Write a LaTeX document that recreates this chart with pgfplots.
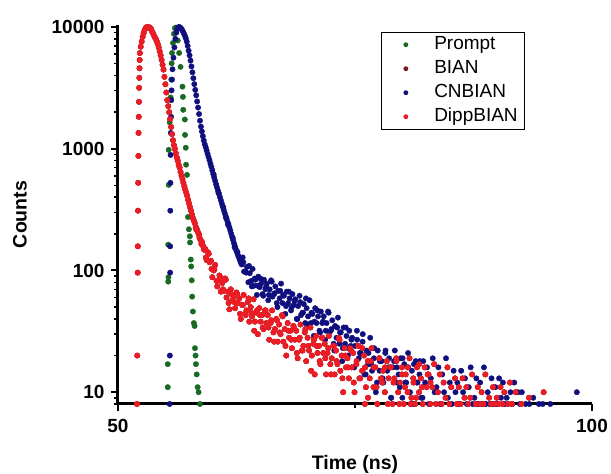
\documentclass[border=0pt]{standalone}
\usepackage{pgfplots}
\pgfplotsset{compat=1.18}
\usepackage{pgfplotstable}
\usepackage{fontspec}
\setmainfont{Liberation Sans}
\definecolor{cprompt}{RGB}{25,105,35}
\definecolor{cbian}{RGB}{130,20,30}
\definecolor{ccn}{RGB}{15,15,125}
\definecolor{cdipp}{RGB}{236,28,36}

\pgfplotstableread[row sep=\\]{
x y\\
52.00 8\\ 52.03 20\\ 52.08 96\\ 52.09 158\\ 52.11 310\\ 52.13 525\\ 52.15 874\\ 52.17 1350\\ 52.19 1830\\ 52.21 2430\\ 52.23 3170\\ 52.25 3830\\
52.27 4590\\ 52.29 5370\\ 52.31 6120\\ 52.40 6900\\ 52.50 7600\\ 52.60 8300\\ 52.70 8900\\ 52.80 9400\\ 52.90 9750\\ 53.00 9950\\ 53.10 10050\\ 53.20 10000\\
53.30 9950\\ 53.40 9800\\ 53.50 9600\\ 53.60 9150\\ 53.70 8850\\ 53.80 8500\\ 53.90 8200\\ 54.00 7950\\ 54.10 7600\\ 54.20 7250\\ 54.30 6800\\ 54.40 6300\\
54.50 5850\\ 54.60 5370\\ 54.70 4900\\ 54.80 4470\\ 54.90 3900\\ 55.00 3390\\ 55.10 2900\\ 55.20 2510\\ 55.30 2240\\ 55.40 2000\\ 55.50 1760\\ 55.60 1510\\
55.70 1320\\ 55.80 1175\\ 55.90 1070\\ 56.00 1000\\ 56.10 920\\ 56.20 850\\ 56.30 800\\ 56.40 740\\ 56.50 700\\ 56.60 645\\ 56.70 600\\ 56.80 562\\
56.90 525\\ 57.00 490\\ 57.10 460\\ 57.20 436\\ 57.30 410\\ 57.40 380\\ 57.50 355\\ 57.60 331\\ 57.70 310\\ 57.80 288\\ 57.90 270\\ 58.00 257\\
58.10 245\\ 58.20 228\\ 58.30 220\\ 58.40 209\\ 58.50 201\\ 58.60 186\\ 58.70 178\\ 58.80 165\\ 58.90 162\\ 59.00 158\\ 59.10 148\\
58.25 218\\ 58.55 196\\ 58.85 172\\ 59.05 150\\
59.20 150\\ 59.35 122\\ 59.50 141\\ 59.65 117\\ 59.80 120\\ 59.95 88\\ 60.10 100\\ 60.25 111\\ 60.40 82\\ 60.55 83\\ 60.70 91\\ 60.85 67\\
61.00 79\\ 61.15 68\\ 61.30 86\\ 61.45 60\\ 61.60 67\\ 61.75 48\\ 61.90 70\\ 62.05 57\\ 62.20 61\\ 62.35 49\\ 62.50 66\\ 62.65 54\\
62.80 59\\ 62.95 40\\ 63.10 52\\ 63.25 63\\ 63.40 44\\ 63.55 47\\ 63.70 55\\ 63.85 38\\ 64.00 50\\ 64.15 42\\ 64.30 58\\ 64.45 38\\
64.60 45\\ 64.75 30\\ 64.90 49\\ 65.05 38\\ 65.20 43\\ 65.35 33\\ 65.50 47\\ 65.65 37\\ 65.80 43\\ 65.95 27\\ 66.10 37\\ 66.25 47\\
66.40 31\\ 66.55 33\\ 66.70 40\\ 66.85 26\\ 67.00 36\\ 67.15 30\\ 67.30 43\\ 67.45 26\\ 67.60 33\\ 67.75 20\\ 67.90 37\\ 68.05 28\\
68.20 32\\ 68.35 23\\ 68.50 35\\ 68.65 27\\ 68.80 32\\ 68.95 19\\ 69.10 27\\ 69.25 36\\ 69.40 22\\ 69.55 24\\ 69.70 31\\ 69.85 18\\
70.00 28\\ 70.15 22\\ 70.30 34\\ 70.45 20\\ 70.60 25\\ 70.75 14\\ 70.90 29\\ 71.05 21\\ 71.20 24\\ 71.35 17\\ 71.50 28\\ 71.65 21\\
71.80 25\\ 71.95 14\\ 72.10 21\\ 72.25 29\\ 72.40 17\\ 72.55 19\\ 72.70 24\\ 72.85 14\\ 73.00 22\\ 73.15 17\\ 73.30 28\\ 73.45 15\\
73.60 20\\ 73.75 10\\ 73.90 23\\ 74.05 16\\ 74.20 19\\ 74.35 13\\ 74.50 23\\ 74.65 16\\ 74.80 21\\ 74.95 10\\
75.15 17\\ 75.35 24\\ 75.55 13\\ 75.75 15\\ 75.95 20\\ 76.05 8\\ 76.15 11\\ 76.35 18\\ 76.55 13\\ 76.75 23\\ 76.95 11\\ 77.15 16\\ 77.35 8\\
77.55 19\\ 77.75 13\\ 77.95 15\\ 78.15 10\\ 78.35 18\\ 78.55 13\\ 78.75 16\\ 78.95 8\\ 79.15 13\\ 79.35 19\\ 79.55 10\\ 79.75 12\\ 79.95 16\\
80.15 8\\ 80.35 14\\ 80.55 10\\ 80.75 19\\ 80.95 9\\ 81.15 13\\ 81.35 8\\ 81.55 16\\ 81.75 10\\ 81.95 13\\ 82.15 8\\ 82.35 16\\ 82.55 11\\
82.75 14\\ 82.95 8\\ 83.15 11\\ 83.35 17\\ 83.55 8\\ 83.75 10\\ 83.95 14\\ 84.15 8\\ 84.35 12\\ 84.55 9\\ 84.75 16\\ 84.95 8\\ 85.15 11\\
85.55 13\\ 85.75 8\\ 85.95 11\\ 86.15 8\\ 86.35 13\\ 86.55 9\\ 86.75 11\\ 86.95 8\\ 87.15 9\\ 87.35 14\\ 87.75 8\\ 87.95 11\\ 88.15 8\\
88.35 10\\ 88.55 8\\ 88.75 14\\ 89.15 9\\ 89.35 8\\ 89.55 11\\ 89.75 8\\ 89.95 9\\ 90.15 8\\ 90.35 11\\ 90.55 8\\ 90.75 10\\ 91.15 8\\
91.35 12\\ 91.55 8\\ 91.95 10\\ 92.55 8\\ 93.35 9\\ 94.90 10\\
59.27 128\\ 59.57 137\\ 59.87 103\\ 60.17 102\\ 60.47 74\\ 60.77 88\\ 61.07 70\\ 61.37 84\\ 61.67 54\\ 61.97 64\\ 62.27 55\\ 62.57 64\\
62.87 44\\ 63.17 52\\ 63.47 43\\ 63.77 59\\ 64.07 45\\ 64.37 32\\ 64.67 47\\ 64.97 43\\ 65.27 34\\ 65.57 47\\ 65.87 34\\ 66.17 39\\
66.47 26\\ 66.77 39\\ 67.07 31\\ 67.37 42\\ 67.67 24\\ 67.97 32\\ 68.27 27\\ 68.57 34\\ 68.87 21\\ 69.17 28\\ 69.47 22\\ 69.77 33\\
70.07 24\\ 70.37 15\\ 70.67 27\\ 70.97 24\\ 71.27 18\\ 71.57 28\\ 71.87 19\\ 72.17 23\\ 72.47 14\\ 72.77 24\\ 73.07 18\\ 73.37 27\\
73.67 13\\ 73.97 20\\ 74.27 16\\ 74.57 22\\ 74.87 12\\ 75.17 18\\ 75.47 13\\ 75.77 23\\ 76.07 16\\ 76.37 9\\ 76.67 18\\ 76.97 16\\
77.27 11\\ 77.57 19\\ 77.87 12\\ 78.17 16\\ 78.47 8\\ 78.77 16\\ 79.07 12\\ 79.37 18\\ 79.67 8\\ 79.97 14\\ 80.27 11\\ 80.57 16\\
80.87 8\\ 81.17 12\\ 81.47 9\\ 81.77 17\\ 82.07 11\\ 82.67 14\\ 82.97 12\\
}\reddata

\pgfplotstableread[row sep=\\]{
x y\\
55.45 8\\ 55.47 20\\ 55.50 96\\ 55.50 158\\ 55.52 310\\ 55.53 525\\ 55.55 890\\ 55.57 1350\\ 55.60 1830\\ 55.62 2510\\ 55.65 3020\\ 55.70 3700\\
55.75 4500\\ 55.85 5600\\ 55.95 6800\\ 56.05 8000\\ 56.15 9000\\ 56.25 9600\\ 56.35 9950\\ 56.45 10000\\
56.55 9950\\ 56.65 9750\\ 56.75 9500\\ 56.85 9200\\ 56.95 8850\\ 57.05 8500\\ 57.15 8100\\ 57.25 7600\\ 57.35 7000\\ 57.45 6400\\ 57.55 5850\\
57.65 5300\\ 57.75 4750\\ 57.85 4250\\ 57.95 3800\\ 58.05 3400\\ 58.15 3050\\ 58.25 2750\\ 58.35 2450\\ 58.45 2180\\ 58.55 1930\\ 58.65 1700\\
58.75 1520\\ 58.85 1390\\ 58.95 1270\\ 59.05 1170\\ 59.15 1090\\ 59.25 1030\\ 59.35 970\\ 59.45 910\\ 59.55 855\\ 59.65 805\\ 59.75 755\\
59.85 710\\ 59.95 665\\ 60.05 620\\ 60.15 580\\ 60.25 545\\ 60.35 510\\ 60.45 480\\ 60.55 452\\ 60.65 428\\ 60.75 402\\ 60.85 378\\ 60.95 355\\
61.05 335\\ 61.15 315\\ 61.25 298\\ 61.35 282\\ 61.45 267\\ 61.55 252\\ 61.65 240\\ 61.75 226\\ 61.85 213\\ 61.95 200\\ 62.05 188\\ 62.15 177\\
62.25 166\\ 62.35 157\\ 62.45 148\\ 62.55 141\\ 62.65 134\\ 62.75 128\\ 62.85 122\\ 62.95 116\\ 63.05 112\\
60.10 612\\ 60.60 432\\ 61.10 332\\ 61.60 238\\ 62.10 186\\ 62.60 142\\ 62.90 124\\ 61.40 270\\ 62.30 155\\
63.15 128\\ 63.30 98\\ 63.45 98\\ 63.60 107\\ 63.75 80\\ 63.90 95\\ 64.05 82\\ 64.20 103\\ 64.35 75\\ 64.50 84\\ 64.65 63\\ 64.80 89\\
64.95 73\\ 65.10 78\\ 65.25 64\\ 65.40 84\\ 65.55 70\\ 65.70 78\\ 65.85 57\\ 66.00 70\\ 66.15 83\\ 66.30 61\\ 66.45 64\\ 66.60 74\\
66.75 54\\ 66.90 68\\ 67.05 59\\ 67.20 78\\ 67.35 54\\ 67.50 62\\ 67.65 44\\ 67.80 67\\ 67.95 54\\ 68.10 59\\ 68.25 47\\ 68.40 64\\
68.55 52\\ 68.70 58\\ 68.85 40\\ 69.00 51\\ 69.15 62\\ 69.30 43\\ 69.45 45\\ 69.60 53\\ 69.75 37\\ 69.90 49\\ 70.05 42\\ 70.20 57\\
70.35 37\\ 70.50 44\\ 70.65 29\\ 70.80 49\\ 70.95 37\\ 71.10 42\\ 71.25 32\\ 71.40 46\\ 71.55 37\\ 71.70 42\\ 71.85 27\\ 72.00 37\\
72.15 46\\ 72.30 31\\ 72.45 32\\ 72.60 39\\ 72.75 25\\ 72.90 35\\ 73.05 28\\ 73.20 41\\ 73.35 25\\ 73.50 31\\ 73.65 18\\ 73.80 34\\
73.95 25\\ 74.10 29\\ 74.25 20\\ 74.40 32\\ 74.55 24\\ 74.70 28\\ 74.85 16\\ 75.00 24\\
75.20 32\\ 75.40 19\\ 75.60 21\\ 75.80 26\\ 76.00 14\\ 76.20 22\\ 76.40 17\\ 76.60 28\\ 76.80 15\\ 77.00 19\\ 77.20 10\\ 77.40 22\\
77.60 15\\ 77.80 18\\ 78.00 12\\ 78.20 21\\ 78.40 15\\ 78.60 19\\ 78.80 9\\ 79.00 16\\ 79.20 22\\ 79.40 12\\ 79.60 14\\ 79.80 19\\
80.00 9\\ 80.20 17\\ 80.40 12\\ 80.60 21\\ 80.80 10\\ 81.00 15\\ 81.20 8\\ 81.40 18\\ 81.60 12\\ 81.80 14\\ 82.00 9\\ 82.20 18\\ 82.40 12\\
82.60 16\\ 82.80 8\\ 83.00 13\\ 83.20 19\\ 83.40 10\\ 83.60 11\\ 83.80 16\\ 84.00 8\\ 84.20 14\\ 84.40 10\\ 84.60 19\\ 84.80 9\\ 85.00 12\\
85.20 8\\ 85.40 15\\ 85.60 10\\ 85.80 12\\ 86.00 8\\ 86.20 15\\ 86.40 10\\ 86.60 13\\ 86.80 8\\ 87.00 11\\ 87.20 16\\ 87.40 8\\ 87.60 9\\
87.80 13\\ 88.00 8\\ 88.20 12\\ 88.40 8\\ 88.60 16\\ 88.80 8\\ 89.00 10\\ 89.20 8\\ 89.40 13\\ 89.60 8\\ 89.80 11\\ 90.00 8\\ 90.20 13\\
90.40 9\\ 90.60 12\\ 90.80 8\\ 91.00 9\\ 91.40 10\\ 91.60 8\\ 91.80 12\\ 92.20 10\\ 92.40 8\\ 92.60 10\\ 93.00 8\\ 93.40 8\\ 93.80 9\\
94.40 8\\ 94.80 8\\ 95.60 8\\ 98.40 10\\
63.22 117\\ 63.52 96\\ 63.82 109\\ 64.12 74\\ 64.42 86\\ 64.72 75\\ 65.02 86\\ 65.32 62\\ 65.62 73\\ 65.92 63\\ 66.22 81\\ 66.52 65\\
66.82 50\\ 67.12 68\\ 67.42 63\\ 67.72 51\\ 68.02 67\\ 68.32 50\\ 68.62 56\\ 68.92 40\\ 69.22 55\\ 69.52 45\\ 69.82 59\\ 70.12 36\\
70.42 45\\ 70.72 38\\ 71.02 47\\ 71.32 31\\ 71.62 38\\ 71.92 32\\ 72.22 45\\ 72.52 33\\ 72.82 22\\ 73.12 34\\ 73.42 31\\ 73.72 23\\
74.02 34\\ 74.32 23\\ 74.62 27\\ 74.92 16\\ 75.22 27\\ 75.52 21\\ 75.82 30\\ 76.12 14\\ 76.42 21\\ 76.72 17\\ 77.02 23\\ 77.32 12\\
77.62 18\\ 77.92 13\\ 78.22 22\\ 78.52 16\\ 78.82 9\\ 79.12 18\\ 79.42 16\\ 79.72 11\\ 80.02 19\\ 80.32 12\\ 80.62 16\\ 80.92 8\\
81.22 17\\ 81.52 12\\ 81.82 18\\ 82.12 9\\
}\bluedata

\pgfplotstableread[row sep=\\]{
x y\\
55.25 11\\ 55.25 17\\ 55.30 81\\ 55.32 88\\ 55.30 163\\ 55.35 505\\ 55.35 980\\ 55.45 1650\\ 55.55 2640\\ 55.62 3700\\ 55.66 5040\\
55.70 6130\\ 55.80 7400\\ 55.90 8800\\ 56.00 9800\\ 56.10 9900\\ 56.30 7760\\ 56.45 6130\\ 56.60 4710\\ 56.80 3240\\ 56.85 2670\\
56.88 2090\\ 57.05 1740\\ 57.07 1300\\ 57.15 1020\\ 57.18 740\\ 57.28 610\\ 57.38 275\\ 57.48 218\\ 57.58 191\\ 57.60 170\\ 57.68 123\\
57.72 108\\ 57.78 83\\ 57.82 61\\ 57.90 46\\ 58.00 37\\ 58.08 35\\ 58.12 23\\ 58.18 20\\ 58.22 17\\ 58.30 14\\ 58.40 11\\ 58.50 10\\ 58.65 8\\
}\promptdata

\begin{document}
\begin{tikzpicture}
\useasboundingbox (-118pt,-70pt) rectangle (493pt,404pt);
\begin{axis}[
  at={(0pt,0pt)}, anchor=south west,
  scale only axis, width=474pt, height=379pt,
  xmin=50, xmax=100, ymode=log, ymin=8, ymax=10400,
  axis x line*=bottom, axis y line*=left,
  axis line style={line width=3pt, black},
  tick align=outside,
  tick style={black, line width=2pt},
  minor tick style={line width=1.5pt},
  major tick length=7pt, minor tick length=4pt,
  xtick={50,100}, xticklabels={50,100}, minor xtick={75},
  ytick={10,100,1000,10000}, yticklabels={10,100,1000,10000},
  minor ytick={8,9,20,30,40,50,60,70,80,90,200,300,400,500,600,700,800,900,2000,3000,4000,5000,6000,7000,8000,9000},
  tick label style={font=\bfseries\fontsize{19}{21}\selectfont},
  xticklabel style={yshift=-5pt},
  yticklabel style={xshift=-3pt},
  xlabel={Time (ns)}, ylabel={Counts},
  label style={font=\bfseries\fontsize{19.5}{22}\selectfont},
  xlabel style={at={(axis description cs:0.5,-0.174)}, anchor=base},
  ylabel style={at={(axis description cs:-0.207,0.5)}, anchor=center},
  axis on top,
  legend cell align=left,
  legend image code/.code={\path (-20pt,0pt) (25pt,0pt); \draw[mark repeat=1,mark phase=1,#1,mark size=2pt] plot coordinates {(0pt,0pt)};},
  legend style={at={(axis description cs:0.555,0.982)}, anchor=north west, draw=black, line width=0.8pt,
    inner xsep=4pt, inner ysep=0.5pt, row sep=0pt,
    font=\fontsize{19}{19}\selectfont,
    nodes={inner xsep=3pt, inner ysep=3pt, text height=14pt, text depth=4pt}},
]
\addplot[only marks, mark=*, mark size=2.7pt, color=cprompt] table[x=x,y=y]{\promptdata};
\addplot[only marks, mark=*, mark size=2.7pt, color=cbian] table[x=x,y=y]{\reddata};
\addplot[only marks, mark=*, mark size=2.7pt, color=ccn] table[x=x,y=y]{\bluedata};
\addplot[only marks, mark=*, mark size=2.7pt, color=cdipp] table[x=x,y=y]{\reddata};
\legend{Prompt,BIAN,CNBIAN,DippBIAN}
\end{axis}
\end{tikzpicture}
\end{document}
